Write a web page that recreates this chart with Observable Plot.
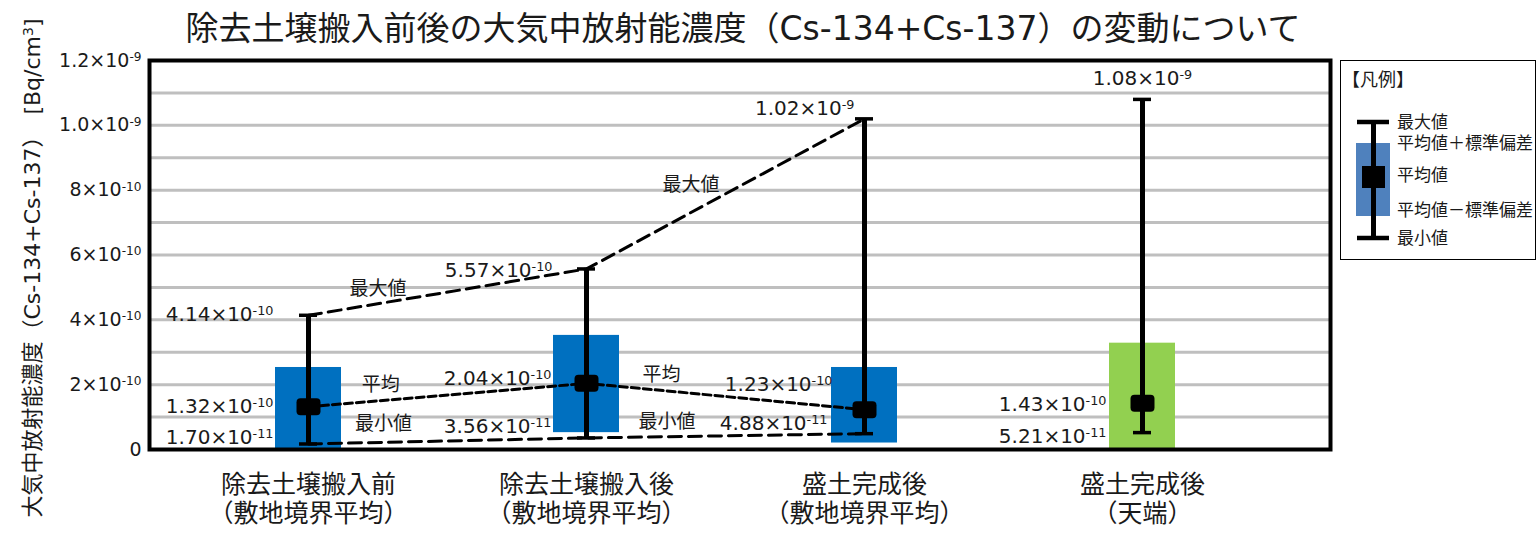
<!DOCTYPE html>
<html><head><meta charset="utf-8">
<script src="https://cdn.jsdelivr.net/npm/d3@7"></script>
<script src="https://cdn.jsdelivr.net/npm/@observablehq/plot@0.6"></script>
<style>
body{margin:0;background:#fff;}
#wrap{position:relative;width:1537px;height:535px;overflow:hidden;}
#title{position:absolute;left:0;top:6px;width:1486px;text-align:center;font-size:33px;font-family:"DejaVu Sans","Noto Sans CJK JP",sans-serif;color:#1a1a1a;white-space:nowrap;line-height:46px;}
#chart{position:absolute;left:0;top:0;}
#legend{position:absolute;left:1340px;top:60px;width:196px;height:200px;box-sizing:border-box;border:1.5px solid #000;background:#fff;}
</style></head>
<body>
<div id="wrap">
  <div id="chart"></div>
  <div id="title">除去土壌搬入前後の大気中放射能濃度（Cs-134+Cs-137）の変動について</div>
  <div id="legend"></div>
</div>
<script>
// ---- data ----
const labelsTop = ["除去土壌搬入前", "除去土壌搬入後", "盛土完成後", "盛土完成後"];
const labelsBottom = ["（敷地境界平均）", "（敷地境界平均）", "（敷地境界平均）", "（天端）"];
const categories = labelsTop.map((t, i) => t + labelsBottom[i]);
const means = [1.32e-10, 2.04e-10, 1.23e-10, 1.43e-10];
const maxs = [4.14e-10, 5.57e-10, 1.02e-9, 1.08e-9];
const mins = [1.70e-11, 3.56e-11, 4.88e-11, 5.21e-11];
const sdUpper = [2.53e-10, 3.52e-10, 2.53e-10, 3.28e-10];
const sdLower = [0, 0.52e-10, 0.2e-10, 0];
const barColors = ["#0070C0", "#0070C0", "#0070C0", "#92D050"];
const maxLabels = ["4.14×10^{-10}", "5.57×10^{-10}", "1.02×10^{-9}", "1.08×10^{-9}"];
const meanLabels = ["1.32×10^{-10}", "2.04×10^{-10}", "1.23×10^{-10}", "1.43×10^{-10}"];
const minLabels = ["1.70×10^{-11}", "3.56×10^{-11}", "4.88×10^{-11}", "5.21×10^{-11}"];
const trendCount = 3; // first three categories are connected
const yTicks = [0, 2e-10, 4e-10, 6e-10, 8e-10, 1.0e-9, 1.2e-9];
const yTickLabels = ["0", "2×10^{-10}", "4×10^{-10}", "6×10^{-10}", "8×10^{-10}", "1.0×10^{-9}", "1.2×10^{-9}"];
const gridValues = [1e-10, 2e-10, 3e-10, 4e-10, 5e-10, 6e-10, 7e-10, 8e-10, 9e-10, 1.0e-9, 1.1e-9, 1.2e-9];
const yTitle = "大気中放射能濃度（Cs-134+Cs-137）　[Bq/cm^{3}]";
const segNames = {max: "最大値", mean: "平均", min: "最小値"};
const legendTitle = "【凡例】";
const legendLabels = ["最大値", "平均値＋標準偏差", "平均値", "平均値－標準偏差", "最小値"];

// ---- styles / layout ----
const xRange = [169, 1281];
const step = (xRange[1] - xRange[0]) / categories.length;
const idx = d3.range(categories.length);
const trendIdx = d3.range(trendCount);
const series = {max: maxs, mean: means, min: mins};
const pointLabelStyle = {
  max:  [{dx:-35, dy:-1, anchor:"end"}, {dx:-34, dy:2, anchor:"end"}, {dx:-10, dy:-10, anchor:"end"}, {dx:0, dy:-21, anchor:"middle"}],
  mean: [{dx:-35, dy:0, anchor:"end"}, {dx:-35, dy:-5, anchor:"end"}, {dx:-32, dy:-25, anchor:"end"}, {dx:-36, dy:1, anchor:"end"}],
  min:  [{dx:-35, dy:-6, anchor:"end"}, {dx:-35, dy:-11, anchor:"end"}, {dx:-37, dy:-10, anchor:"end"}, {dx:-36, dy:4, anchor:"end"}]
};
const segLabelStyle = [
  {key:"max", seg:0, t:0.25, dy:-15}, {key:"max", seg:1, t:0.376, dy:-28},
  {key:"mean", seg:0, t:0.26, dy:-16}, {key:"mean", seg:1, t:0.27, dy:-16},
  {key:"min", seg:0, t:0.27, dy:-18}, {key:"min", seg:1, t:0.29, dy:-15}
];
const textColor = "#1a1a1a";
const cjk = '"DejaVu Sans","Noto Sans CJK JP",sans-serif';

const roundRect = {draw(ctx) {
  const w = 12, h = 8.5, r = 4;
  ctx.moveTo(-w + r, -h); ctx.lineTo(w - r, -h); ctx.arcTo(w, -h, w, -h + r, r);
  ctx.lineTo(w, h - r); ctx.arcTo(w, h, w - r, h, r);
  ctx.lineTo(-w + r, h); ctx.arcTo(-w, h, -w, h - r, r);
  ctx.lineTo(-w, -h + r); ctx.arcTo(-w, -h, -w + r, -h, r); ctx.closePath();
}};

const marks = [
  Plot.ruleY(gridValues, {stroke: "#bfbfbf", strokeWidth: 3}),
  Plot.barY(idx, {x: i => categories[i], y1: i => sdLower[i], y2: i => sdUpper[i], fill: i => barColors[i],
    insetLeft: (step - 66) / 2, insetRight: (step - 66) / 2}),
  Plot.line(trendIdx, {x: i => categories[i], y: i => maxs[i], stroke: "#000", strokeWidth: 3, strokeDasharray: "13,7"}),
  Plot.line(trendIdx, {x: i => categories[i], y: i => means[i], stroke: "#000", strokeWidth: 3, strokeDasharray: "8,4"}),
  Plot.line(trendIdx, {x: i => categories[i], y: i => mins[i], stroke: "#000", strokeWidth: 3, strokeDasharray: "13,7"}),
  Plot.ruleX(idx, {x: i => categories[i], y1: i => mins[i], y2: i => maxs[i], stroke: "#000", strokeWidth: 5}),
  Plot.tickY(idx, {x: i => categories[i], y: i => maxs[i], stroke: "#000", strokeWidth: 3.5, insetLeft: (step - 18) / 2, insetRight: (step - 18) / 2}),
  Plot.tickY(idx, {x: i => categories[i], y: i => mins[i], stroke: "#000", strokeWidth: 3.5, insetLeft: (step - 18) / 2, insetRight: (step - 18) / 2}),
  Plot.dot(idx, {x: i => categories[i], y: i => means[i], symbol: roundRect, r: 10, fill: "#000", stroke: "none"}),
  Plot.frame({stroke: "#000", strokeWidth: 4}),
  // x labels
  Plot.text(idx, {x: i => categories[i], frameAnchor: "bottom", text: i => labelsTop[i], dy: 43, fontSize: 25, fontFamily: cjk, fill: textColor}),
  Plot.text(idx, {x: i => categories[i], frameAnchor: "bottom", text: i => labelsBottom[i], dy: 72, fontSize: 25, fontFamily: cjk, fill: textColor}),
  // y title
  Plot.text([yTitle], {frameAnchor: "left", textAnchor: "middle", rotate: -90, dx: -117, dy: 13, fontSize: 22, fontFamily: cjk, fill: textColor})
];

// point value labels
for (const key of ["max", "mean", "min"]) {
  const labels = key === "max" ? maxLabels : key === "mean" ? meanLabels : minLabels;
  idx.forEach(i => {
    const s = pointLabelStyle[key][i];
    marks.push(Plot.text([i], {x: j => categories[j], y: j => series[key][j], text: j => labels[j],
      dx: s.dx, dy: s.dy, textAnchor: s.anchor, fontSize: 20, fontFamily: cjk, fill: textColor}));
  });
}
// segment name labels
for (const s of segLabelStyle) {
  const v = series[s.key];
  marks.push(Plot.text([s.seg], {x: j => categories[j], y: j => v[j] + s.t * (v[j + 1] - v[j]), text: () => segNames[s.key],
    dx: s.t * step, dy: s.dy, fontSize: 19, fontFamily: cjk, fill: textColor}));
}

const chart = Plot.plot({
  width: 1537, height: 535,
  marginLeft: 149, marginRight: 207, marginTop: 60, marginBottom: 86,
  style: {fontFamily: cjk, fontSize: "19px", color: textColor, background: "transparent"},
  x: {type: "band", domain: categories, range: xRange, padding: 0, axis: null},
  y: {domain: [0, 1.2e-9], ticks: yTicks, tickFormat: d => yTickLabels[yTicks.indexOf(d)], tickSize: 0, tickPadding: 8, label: null},
  marks
});
document.getElementById("chart").appendChild(chart);

// superscript rendering for "^{...}"
const NS = "http://www.w3.org/2000/svg";
function applySup(el) {
  const s = el.textContent;
  if (!s.includes("^{")) return;
  const parts = s.split(/(\^\{[^}]*\})/).filter(p => p.length);
  el.textContent = "";
  let raised = false;
  for (const p of parts) {
    const t = document.createElementNS(NS, "tspan");
    if (p.startsWith("^{")) {
      t.textContent = p.slice(2, -1);
      t.setAttribute("font-size", "0.64em");
      t.setAttribute("dy", "-0.47em");
      raised = true;
    } else {
      t.textContent = p;
      if (raised) { t.setAttribute("dy", "0.3em"); raised = false; }
    }
    el.appendChild(t);
  }
}
chart.querySelectorAll("text").forEach(applySup);

// legend
const lg = d3.select("#legend").append("svg").attr("width", 194).attr("height", 197).style("display", "block");
lg.append("text").attr("x", 1).attr("y", 19).attr("dy", "0.35em").attr("font-size", 18).attr("font-family", cjk).attr("fill", textColor).text(legendTitle);
lg.append("rect").attr("x", 15).attr("y", 82).attr("width", 34).attr("height", 73).attr("fill", "#4F81BD");
lg.append("line").attr("x1", 32.5).attr("x2", 32.5).attr("y1", 61).attr("y2", 177).attr("stroke", "#000").attr("stroke-width", 5);
[61, 177].forEach(y => lg.append("line").attr("x1", 16).attr("x2", 48).attr("y1", y).attr("y2", y).attr("stroke", "#000").attr("stroke-width", 4.5));
lg.append("rect").attr("x", 21).attr("y", 105).attr("width", 23).attr("height", 22).attr("fill", "#000");
const lgY = [61, 82, 114, 149, 177];
legendLabels.forEach((t, i) => lg.append("text").attr("x", 56).attr("y", lgY[i]).attr("dy", "0.35em")
  .attr("font-size", 17).attr("font-family", cjk).attr("fill", textColor).text(t));
</script>
</body></html>
